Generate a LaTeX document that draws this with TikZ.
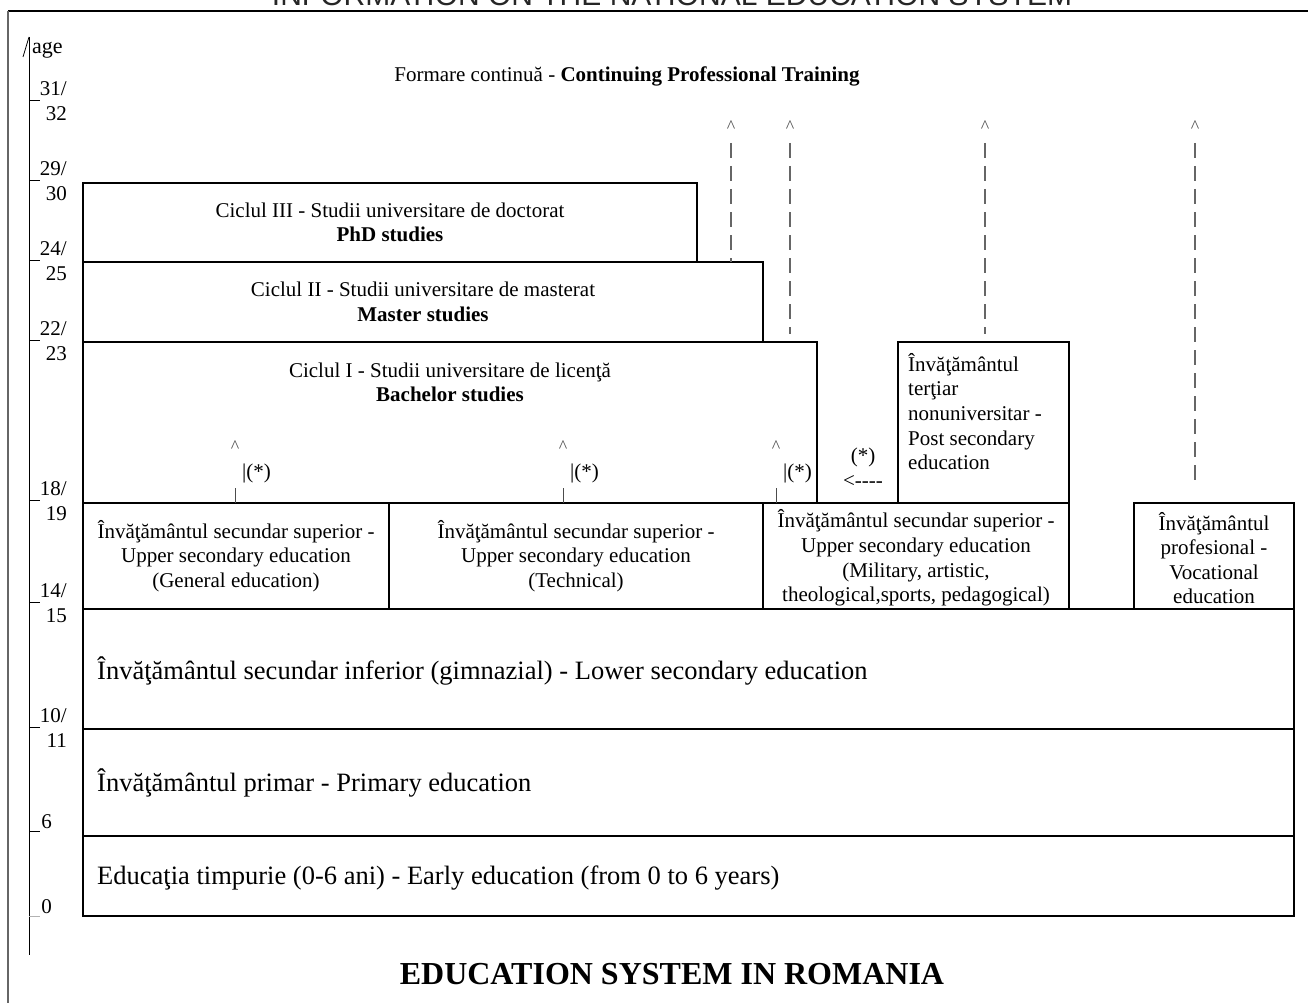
\documentclass[tikz,border=0pt]{standalone}
\usepackage{fontspec}
\setmainfont{Liberation Serif}
\newfontfamily\titlesans{Liberation Sans}
\begin{document}
\begin{tikzpicture}[x=1pt,y=-1pt,
  box/.style={draw, line width=1.3pt, inner sep=0pt},
  txt/.style={inner sep=0pt, align=center, font=\fontsize{21}{24.6}\selectfont},
  bigtxt/.style={inner sep=0pt, anchor=west, font=\fontsize{26.5}{31}\selectfont},
  agelbl/.style={inner sep=0pt, anchor=east, align=right, font=\fontsize{21}{25}\selectfont},
  agetick/.style={line width=0.8pt},
  flow/.style={line width=1.2pt, black!60, dash pattern=on 15pt off 8pt},
  caret/.style={inner sep=0pt, anchor=base, text=black!70, font=\fontsize{18}{20}\selectfont},
  star/.style={inner sep=0pt, anchor=west, font=\fontsize{21}{24}\selectfont}
]
\useasboundingbox (0,0) rectangle (1308,1003);
% frame and title (cut at top, as in the reference)
\node[inner sep=0pt, anchor=base, text=black!85, font=\titlesans\fontsize{30}{32}\selectfont] (ttl) at (672,6) {INFORMATION ON THE NATIONAL EDUCATION SYSTEM};
\coordinate (ftl) at (8,11);
\coordinate (ftr) at (1308,11);
\coordinate (fbl) at (8,1003);
\draw[line width=2pt] (ftl) -- (ftr);
\draw[line width=2pt, black!60] (ftl) -- (fbl);

% age axis
\coordinate (axtop) at (29,37);
\coordinate (axbot) at (29,955);
\coordinate (axcar) at (23,57);
\draw[line width=1pt] (axtop) -- (axbot);
\draw[line width=0.8pt] (axcar) -- (axtop);
\node[inner sep=0pt, anchor=west, font=\fontsize{22}{24}\selectfont] (agelabel) at (32,50) {age};

\foreach \t/\a/\b in {100/31/32,180/29/30,260/24/25,340/22/23,500/18/19,602/14/15,727/10/11}{
  \draw[agetick] (29,\t) -- (40,\t);
  \node[agelbl] (lbl\a) at (67,\t+1) {\a/\\\b};
}
\draw[agetick] (29,831) -- (40,831);
\node[agelbl] (lbl6) at (52,822) {6};
\draw[agetick, black!30] (29,916) -- (40,916);
\node[agelbl] (lbl0) at (52,907) {0};

% continuing training
\node[txt] (cpt) at (627,76) {Formare continuă - \textbf{Continuing Professional Training}};

% university boxes
\node[box, minimum width=614pt, minimum height=79pt] (phd) at (390,222.5) {};
\node[txt] (phdt) at (phd.center) {Ciclul III - Studii universitare de doctorat\\\textbf{PhD studies}};
\node[box, minimum width=680pt, minimum height=80pt] (mas) at (423,302) {};
\node[txt] (mast) at (mas.center) {Ciclul II - Studii universitare de masterat\\\textbf{Master studies}};
\node[box, minimum width=734pt, minimum height=161pt] (bac) at (450,422.5) {};
\node[txt] (bact) at (450,382.5) {Ciclul I - Studii universitare de licenţă\\\textbf{Bachelor studies}};
\node[box, minimum width=171pt, minimum height=161pt] (post) at (983.5,422.5) {};
\node[txt, align=left, anchor=west] (postt) at (908,411.5) {Învăţământul\\terţiar\\nonuniversitar -\\Post secondary\\education};

% upper secondary
\node[box, minimum width=306pt, minimum height=106pt] (gen) at (236,556) {};
\node[txt] (gent) at (gen.center) {Învăţământul secundar superior -\\Upper secondary education\\(General education)};
\node[box, minimum width=374pt, minimum height=106pt] (tech) at (576,556) {};
\node[txt] (techt) at (tech.center) {Învăţământul secundar superior -\\Upper secondary education\\(Technical)};
\node[box, minimum width=306pt, minimum height=106pt] (mil) at (916,556) {};
\node[txt] (milt) at (916,558) {Învăţământul secundar superior -\\Upper secondary education\\(Military, artistic,\\theological,sports, pedagogical)};
\node[box, minimum width=160pt, minimum height=106pt] (voc) at (1214,556) {};
\node[txt] (voct) at (1214,558) {Învăţământul\\profesional -\\Vocational\\education};

% lower levels
\node[box, minimum width=1211pt, minimum height=120pt] (low) at (688.5,669) {};
\node[bigtxt] (lowt) at (97,671) {Învăţământul secundar inferior (gimnazial) - Lower secondary education};
\node[box, minimum width=1211pt, minimum height=107pt] (prim) at (688.5,782.5) {};
\node[bigtxt] (primt) at (97,783) {Învăţământul primar - Primary education};
\node[box, minimum width=1211pt, minimum height=80pt] (early) at (688.5,876) {};
\node[bigtxt] (earlyt) at (97,878) {Educaţia timpurie (0-6 ani) - Early education (from 0 to 6 years)};

% dashed continuing training paths
\foreach \n/\x/\e in {1/731/262,2/790/334,3/985/334,4/1195/483}{
  \node[caret] (car\n) at (\x,133) {\textasciicircum};
  \coordinate (ds\n) at (\x,143);
  \coordinate (de\n) at (\x,\e);
  \draw[flow] (ds\n) -- (de\n);
}

% (*) access markers
\foreach \n/\x in {1/235,2/563,3/776}{
  \node[caret] (acc\n) at (\x,452) {\textasciicircum};
  \node[star] (st\n) at (\x+7,473) {|(*)};
  \coordinate (as\n) at (\x,488);
  \coordinate (ae\n) at (\x,503);
  \draw[line width=0.8pt, black!70] (as\n) -- (ae\n);
}
\node[txt] (postacc) at (863,468) {(*)\\<-\kern0pt-\kern0pt-\kern0pt-};

% bottom title
\node[inner sep=0pt, font=\bfseries\fontsize{32}{35}\selectfont] (btitle) at (672,974) {EDUCATION SYSTEM IN ROMANIA};
\end{tikzpicture}
\end{document}
